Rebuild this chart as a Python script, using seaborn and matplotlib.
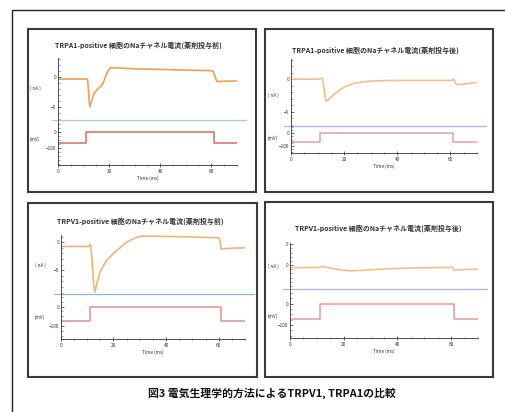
import matplotlib
matplotlib.use("Agg")
import matplotlib.pyplot as plt
from matplotlib.patches import Rectangle
from matplotlib.ticker import MultipleLocator
import seaborn as sns

sns.set_theme(style="white")
plt.rcParams["font.family"] = ["Noto Sans CJK JP", "DejaVu Sans"]

W, H = 506, 412

# ---- data -------------------------------------------------------------
titles = [
    "TRPA1-positive 細胞のNaチャネル電流(薬剤投与前)",
    "TRPA1-positive 細胞のNaチャネル電流(薬剤投与後)",
    "TRPV1-positive 細胞のNaチャネル電流(薬剤投与前)",
    "TRPV1-positive 細胞のNaチャネル電流(薬剤投与後)",
]
caption = "図3 電気生理学的方法によるTRPV1, TRPA1の比較"

# Na current traces (ms, nA)
ta1_pre_t = [0, 11.5, 11.8, 12.2, 12.5, 13.0, 14.0, 15.2, 16.2, 17.2, 18.0, 18.9, 19.8, 20.5, 25, 30, 40, 50, 60, 60.8, 61.5, 62.2, 63, 66, 70]
ta1_pre_i = [-0.4, -0.4, -1.5, -4.0, -5.0, -4.2, -2.9, -2.2, -1.8, -1.4, -0.7, 0.3, 1.1, 1.5, 1.4, 1.3, 1.2, 1.1, 1.0, 0.9, 0.0, -0.8, -0.8, -0.75, -0.7]

ta1_post_t = [0, 10.5, 11.2, 11.8, 12.3, 12.8, 13.2, 14.2, 15.2, 16.6, 18.5, 20.4, 24, 28, 32, 40, 50, 60.5, 61.2, 61.8, 62.5, 64, 67, 70]
ta1_post_i = [0, 0, 0.15, 0.1, -1.2, -2.8, -3.4, -3.1, -2.7, -2.2, -1.6, -1.15, -0.6, -0.37, -0.25, -0.2, -0.2, -0.2, 0.05, -0.6, -0.85, -0.8, -0.65, -0.5]

tv1_pre_t = [0, 10.8, 11.1, 11.5, 12.0, 12.5, 13.0, 13.6, 14.9, 17.4, 21.2, 25, 28.8, 30.5, 40, 50, 60.2, 61.0, 62, 66, 70]
tv1_pre_i = [-0.75, -0.75, -0.35, -0.9, -4.0, -7.5, -8.9, -7.6, -5.3, -3.2, -1.5, 0.0, 0.9, 1.1, 1.05, 0.95, 0.8, -1.2, -1.15, -1.05, -1.0]

tv1_post_t = [0, 11.0, 12.2, 14, 17, 20, 22.8, 27, 33, 40, 50, 60.6, 61.1, 62, 66, 70]
tv1_post_i = [-0.6, -0.6, -0.3, -0.6, -0.95, -1.25, -1.4, -1.25, -1.0, -0.8, -0.65, -0.55, -1.3, -1.15, -1.05, -1.0]

# Command voltage steps (ms, mV)
step_t = [0, 11, 11, 61, 61, 70]
ta1_pre_v = [-70, -70, 0, 0, -70, -70]
ta1_post_v = [-70, -70, 0, 0, -70, -70]
tv1_pre_v = [-75, -75, 0, 0, -75, -75]
tv1_post_v = [-72, -72, 0, 0, -72, -72]

cur_t = [ta1_pre_t, ta1_post_t, tv1_pre_t, tv1_post_t]
cur_i = [ta1_pre_i, ta1_post_i, tv1_pre_i, tv1_post_i]
volt_v = [ta1_pre_v, ta1_post_v, tv1_pre_v, tv1_post_v]

cur_ticks = [[-5, 0], [-5, 0], [-5, 0], [0, 5]]
volt_ticks = [-100, 0]

# ---- styling / layout ---------------------------------------------------
orange = ["#f0a055", "#f5bf8c", "#f2b27a", "#f5bf8c"]
sep_col = ["#a9c5e2", "#b4acdc", "#8cb3da", "#b4acdc"]
red = ["#d46a6a", "#e6a0a0", "#e09090", "#e49a9a"]

# pixel boxes: (x0, x1, y_top, y_sep, y_bottom)
boxes = [
    (58, 236.7, 58, 120, 165),
    (291, 477, 59, 126, 153.3),
    (60.7, 245, 235, 294.3, 339.3),
    (290, 478, 243.3, 289.3, 338.3),
]
cur_lim = [(-7.2, 3.1), (-7.2, 3.1), (-9.3, 1.3), (-5.8, 5.2)]
volt_lim = [(-208, 73), (-157, 57), (-169, 64), (-162, 68)]

frames = [(28, 29, 256, 192), (265, 29, 493, 192), (28, 203, 257, 377), (265, 202, 493, 377)]
title_xy = [(138.5, 45), (375, 50), (140, 221), (378.5, 227.7)]
unit_x = [35, 273, 40, 273]
unit_y_nA = [88, 95, 265.7, 266]
unit_y_mV = [139, 138, 317.7, 316]

fig = plt.figure(figsize=(W / 100, H / 100), dpi=100)
fig.patch.set_facecolor("white")


def fx(px):
    return px / W


def fy(py):
    return 1 - py / H


# outer frame
fig.patches.append(Rectangle((fx(12), fy(430)), fx(520) - fx(12), fy(10) - fy(430),
                             transform=fig.transFigure, fill=False, lw=1.0,
                             edgecolor="#222222", zorder=0))

tick_fs = 3.4
for k in range(4):
    x0, x1, yt, ys, yb = boxes[k]
    fl, ft, fr, fb = frames[k]
    fig.patches.append(Rectangle((fx(fl), fy(fb)), fx(fr) - fx(fl), fy(ft) - fy(fb),
                                 transform=fig.transFigure, fill=False, lw=1.5,
                                 edgecolor="#3a3a3a", zorder=0))

    ax_i = fig.add_axes([fx(x0), fy(ys), fx(x1) - fx(x0), fy(yt) - fy(ys)])
    ax_v = fig.add_axes([fx(x0), fy(yb), fx(x1) - fx(x0), fy(ys) - fy(yb)], sharex=ax_i)
    for ax in (ax_i, ax_v):
        ax.set_facecolor("none")
        for s in ("top", "right"):
            ax.spines[s].set_visible(False)
        ax.spines["left"].set_color("#333333")
        ax.spines["left"].set_linewidth(0.6)
        ax.tick_params(axis="y", direction="in", length=1.8, width=0.5,
                       labelsize=tick_fs, pad=1.2, colors="#333333",
                       which="major", left=True)
        ax.tick_params(axis="y", which="minor", direction="in", length=1.2,
                       width=0.4, left=True, colors="#555555")
    ax_i.spines["bottom"].set_visible(False)
    ax_i.tick_params(axis="x", bottom=False, labelbottom=False, which="both")
    ax_v.spines["bottom"].set_color("#333333")
    ax_v.spines["bottom"].set_linewidth(0.6)

    sns.lineplot(x=cur_t[k], y=cur_i[k], ax=ax_i, color=orange[k], linewidth=1.2,
                 estimator=None, sort=False)
    sns.lineplot(x=step_t, y=volt_v[k], ax=ax_v, color=red[k], linewidth=1.1,
                 estimator=None, sort=False)
    # separator between current and voltage sections
    ax_i.plot([-2.5, 73.5], [cur_lim[k][0]] * 2, color=sep_col[k], lw=0.9,
              clip_on=False, zorder=3)

    ax_i.set_xlim(0, 70)
    ax_i.set_ylim(*cur_lim[k])
    ax_v.set_ylim(*volt_lim[k])
    ax_i.set_yticks(cur_ticks[k])
    ax_i.yaxis.set_minor_locator(MultipleLocator(1))
    ax_v.set_yticks(volt_ticks)
    ax_v.yaxis.set_minor_locator(MultipleLocator(25))
    ax_v.set_xticks([0, 20, 40, 60])
    ax_v.xaxis.set_minor_locator(MultipleLocator(5))
    ax_v.tick_params(axis="x", direction="inout", length=2.2, width=0.5,
                     labelsize=tick_fs, pad=1.5, colors="#333333", bottom=True)
    ax_v.tick_params(axis="x", which="minor", direction="inout", length=1.6,
                     width=0.4, bottom=True, colors="#555555")
    ax_i.set_xlabel("")
    ax_i.set_ylabel("")
    ax_v.set_ylabel("")
    ax_v.set_xlabel("Time (ms)", fontsize=tick_fs, labelpad=1.5, color="#333333")

    fig.text(fx(title_xy[k][0]), fy(title_xy[k][1]), titles[k], ha="center",
             va="center", fontsize=5.0, fontweight="bold", color="#333333")
    fig.text(fx(unit_x[k]), fy(unit_y_nA[k]), "( nA )", ha="center", va="center",
             fontsize=tick_fs, color="#333333")
    fig.text(fx(unit_x[k]), fy(unit_y_mV[k]), "(mV)", ha="center", va="center",
             fontsize=tick_fs, color="#333333")

fig.text(fx(272), fy(393), caption, ha="center", va="center", fontsize=7.8,
         fontweight="bold", color="#111111")

fig.savefig("out.png", dpi=100, facecolor="white")
